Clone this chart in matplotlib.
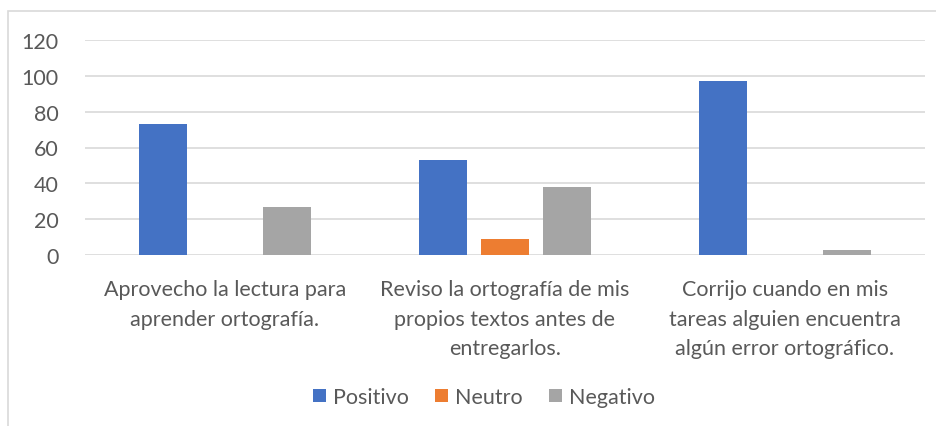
import matplotlib.pyplot as plt
from matplotlib.patches import Rectangle
import numpy as np

# data
categories = ["Aprovecho la lectura para\naprender ortografía.",
              "Reviso la ortografía de mis\npropios textos antes de\nentregarlos.",
              "Corrijo cuando en mis\ntareas alguien encuentra\nalgún error ortográfico."]
series_names = ["Positivo", "Neutro", "Negativo"]
positivo = [73, 53, 97]
neutro = [0, 9, 0]
negativo = [27, 38, 3]
yticks = [0, 20, 40, 60, 80, 100, 120]

colors = ["#4472C4", "#ED7D31", "#A5A5A5"]
text_color = "#595959"
grid_color = "#D9D9D9"

plt.rcParams["font.family"] = ["Lato", "DejaVu Sans"]
fs = 15.5

fig = plt.figure(figsize=(9.36, 4.27), dpi=100)
ax = fig.add_axes([85/936, 1 - 256/427, 840/936, 215/427])

# outer chart border
fig.patches.append(Rectangle((8/936, -0.1), 1.2, 1 - 12/427 + 0.1, transform=fig.transFigure,
                             fill=False, edgecolor=grid_color, linewidth=1.2))

x = np.arange(len(categories))
width = 0.172
step = 0.221
for i, (vals, name) in enumerate(zip([positivo, neutro, negativo], series_names)):
    ax.bar(x + (i - 1) * step, vals, width, color=colors[i], label=name, zorder=3)

ax.set_xlim(-0.5, 2.5)
ax.set_ylim(0, 120)
ax.set_yticks(yticks)
ax.set_xticks(x)
ax.set_xticklabels(categories, fontsize=fs, color=text_color, linespacing=1.62)
ax.tick_params(axis="y", labelsize=fs, labelcolor=text_color, length=0, pad=19)
ax.tick_params(axis="x", length=0, pad=17)
ax.yaxis.grid(True, color=grid_color, linewidth=1.2, zorder=0)
for s in ax.spines.values():
    s.set_visible(False)

fig.legend(loc="center", bbox_to_anchor=(484/936, 1 - 398/427), ncol=3, frameon=False,
           fontsize=fs, labelcolor=text_color, handlelength=0.6, handleheight=0.6,
           handletextpad=0.35, columnspacing=1.2)

fig.savefig("out.png", dpi=100)
